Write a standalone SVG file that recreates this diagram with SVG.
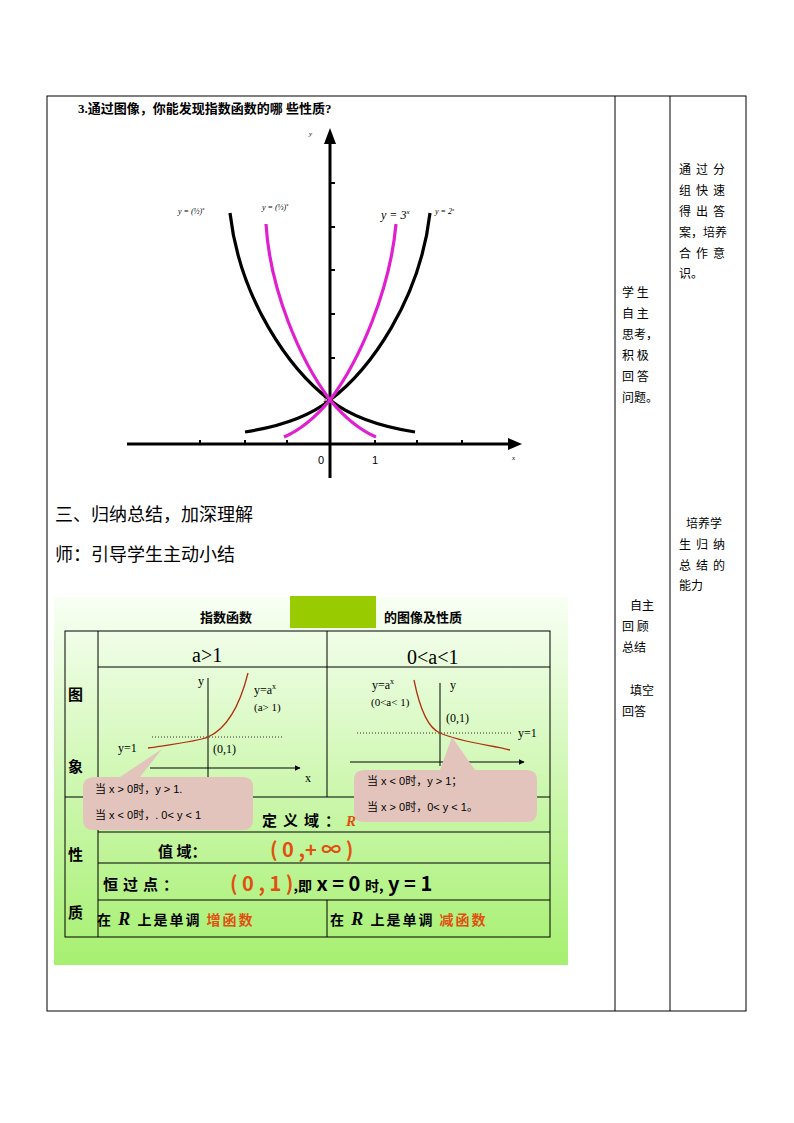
<svg xmlns="http://www.w3.org/2000/svg" width="794" height="1123" viewBox="0 0 794 1123">
<style>
.b{stroke:#000;stroke-width:1;fill:none}
.s{font-family:"Noto Sans CJK SC",sans-serif;font-size:12px;fill:#000}
.h{font-family:"Noto Sans CJK SC",sans-serif;font-size:18px;fill:#000}
.t{font-family:"Liberation Serif","Noto Sans CJK SC",serif;fill:#000}
.ax{stroke:#000;stroke-width:3;fill:none}
.cb{stroke:#000;stroke-width:3.2;fill:none}
.cm{stroke:#e020d0;stroke-width:3.2;fill:none}
.br{stroke:#b03010;stroke-width:1.3;fill:none}
.dot{stroke:#000;stroke-width:0.8;stroke-dasharray:1 2;fill:none}
.k{font-family:"Noto Sans CJK SC",sans-serif;font-weight:bold;fill:#000}
.o{fill:#e05010}
.call{fill:#e2c4bc}
.ct{font-family:"Liberation Sans","Noto Sans CJK SC",sans-serif;font-size:11px;fill:#000}
</style>
<defs>
<linearGradient id="g" x1="0" y1="0" x2="0" y2="1"><stop offset="0" stop-color="#f8fff4"/><stop offset="1" stop-color="#a6f070"/></linearGradient>
<marker id="ar" viewBox="0 0 10 10" refX="9" refY="5" markerWidth="6" markerHeight="6" orient="auto"><path d="M0,0L10,5L0,10z" fill="#000"/></marker>
</defs>
<g id="frame">
<rect class="b" x="47" y="96" width="699" height="915"/>
<line class="b" x1="615" y1="96" x2="615" y2="1011"/>
<line class="b" x1="670" y1="96" x2="670" y2="1011"/>
</g>
<g id="question">
<text class="t" x="78" y="113" font-size="13" font-weight="bold">3.通过图像，你能发现指数函数的哪 些性质?</text>
</g>
<g id="graph">
<line class="ax" x1="127" y1="444" x2="512" y2="444"/>
<path d="M522,444L508,438L508,450z"/>
<line class="ax" x1="330" y1="478" x2="330" y2="140"/>
<path d="M330,128L324,144L336,144z"/>
<g stroke="#000" stroke-width="2">
<line x1="200" y1="440" x2="200" y2="444"/><line x1="245" y1="440" x2="245" y2="444"/><line x1="287" y1="440" x2="287" y2="444"/>
<line x1="375" y1="440" x2="375" y2="444"/><line x1="417" y1="440" x2="417" y2="444"/><line x1="462" y1="440" x2="462" y2="444"/>
<line x1="330" y1="183" x2="335" y2="183"/><line x1="330" y1="227" x2="335" y2="227"/><line x1="330" y1="270" x2="335" y2="270"/><line x1="330" y1="314" x2="335" y2="314"/><line x1="330" y1="358" x2="335" y2="358"/>
</g>
<path class="cb" d="M245,432 C290,425 315,412 330,400 C370,370 420,300 430,213"/>
<path class="cb" d="M415,432 C370,425 345,412 330,400 C290,370 240,300 230,213"/>
<path class="cm" d="M284,437 C305,428 320,412 330,400 C360,360 390,290 396,224"/>
<path class="cm" d="M376,437 C355,428 340,412 330,400 C300,360 270,290 266,224"/>
<text class="t" x="309" y="136" font-size="7" font-style="italic">y</text>
<text class="t" x="512" y="460" font-size="7" font-style="italic">x</text>
<text x="318" y="464" font-family="Liberation Sans" font-size="11">0</text>
<text x="372" y="464" font-family="Liberation Sans" font-size="11">1</text>
<text x="323" y="402" font-family="Liberation Sans" font-size="7">1</text>
<text class="t" x="178" y="214" font-size="8" font-style="italic">y = (½)<tspan dy="-4" font-size="5">x</tspan></text>
<text class="t" x="262" y="210" font-size="8" font-style="italic">y = (⅓)<tspan dy="-4" font-size="5">x</tspan></text>
<text class="t" x="381" y="219" font-size="12" font-style="italic">y = 3<tspan dy="-5" font-size="7">x</tspan></text>
<text class="t" x="435" y="214" font-size="8" font-style="italic">y = 2<tspan dy="-3" font-size="5">x</tspan></text>
</g>
<g id="headings">
<text class="h" x="55" y="521">三、归纳总结，加深理解</text>
<text class="h" x="55" y="561">师：引导学生主动小结</text>
</g>
<g id="notes" class="s">
<text x="622" y="297">学  生</text><text x="622" y="318">自  主</text><text x="622" y="339">思考，</text><text x="622" y="360">积  极</text><text x="622" y="381">回  答</text><text x="622" y="402">问题。</text>
<text x="630" y="610">自主</text><text x="622" y="631">回  顾</text><text x="622" y="652">总结</text>
<text x="630" y="695">填空</text><text x="622" y="716">回答</text>
<text x="679" y="174" letter-spacing="5">通过分</text><text x="679" y="195" letter-spacing="5">组快速</text><text x="679" y="216" letter-spacing="5">得出答</text><text x="679" y="237">案，培养</text><text x="679" y="258" letter-spacing="5">合作意</text><text x="679" y="278">识。</text>
<text x="686" y="528">培养学</text><text x="679" y="549" letter-spacing="5">生归纳</text><text x="679" y="570" letter-spacing="5">总结的</text><text x="679" y="590">能力</text>
</g>
<g id="panel">
<rect x="54" y="597" width="514" height="368" fill="url(#g)"/>
<rect x="290" y="596" width="86" height="32" fill="#99cc00"/>
<text class="k" x="200" y="622" font-size="13">指数函数</text>
<text class="k" x="384" y="622" font-size="13">的图像及性质</text>
<g class="b">
<rect x="65" y="631" width="485" height="306"/>
<line x1="98" y1="631" x2="98" y2="937"/>
<line x1="98" y1="667" x2="550" y2="667"/>
<line x1="65" y1="797" x2="550" y2="797"/>
<line x1="98" y1="832" x2="550" y2="832"/>
<line x1="98" y1="863" x2="550" y2="863"/>
<line x1="98" y1="900" x2="550" y2="900"/>
<line x1="327" y1="631" x2="327" y2="797"/>
<line x1="327" y1="900" x2="327" y2="937"/>
</g>
<text class="t" x="192" y="662" font-size="20">a&gt;1</text>
<text class="t" x="407" y="664" font-size="20">0&lt;a&lt;1</text>
<text class="k" x="68" y="700" font-size="15">图</text>
<text class="k" x="68" y="772" font-size="15">象</text>
<text class="k" x="68" y="860" font-size="15">性</text>
<text class="k" x="68" y="918" font-size="15">质</text>
<line class="b" x1="150" y1="768" x2="300" y2="768" marker-end="url(#ar)"/>
<line class="b" x1="208" y1="777" x2="208" y2="678"/>
<line class="dot" x1="152" y1="737" x2="282" y2="737"/>
<path class="br" d="M148,748 C175,744 200,741 208,737 C228,728 240,705 248,673"/>
<g class="t" font-size="12">
<text x="198" y="685">y</text><text x="305" y="782">x</text>
<text x="118" y="752">y=1</text><text x="213" y="753">(0,1)</text>
<text x="254" y="694">y=a<tspan dy="-5" font-size="8">x</tspan></text><text x="254" y="711" font-size="11">(a&gt; 1)</text>
</g>
<line class="b" x1="350" y1="762" x2="524" y2="762" marker-end="url(#ar)"/>
<line class="b" x1="440" y1="766" x2="440" y2="683"/>
<line class="dot" x1="357" y1="733" x2="512" y2="733"/>
<path class="br" d="M414,680 C420,710 428,728 440,733 C460,742 490,745 510,750"/>
<g class="t" font-size="12">
<text x="450" y="689">y</text>
<text x="518" y="737">y=1</text><text x="446" y="722">(0,1)</text>
<text x="372" y="689">y=a<tspan dy="-5" font-size="8">x</tspan></text><text x="371" y="706" font-size="11">(0&lt;a&lt; 1)</text>
</g>
<path class="call" d="M96,777 L120,777 L162,749 L140,777 L243,777 Q253,777 253,787 L253,820 Q253,830 243,830 L93,830 Q83,830 83,820 L83,787 Q83,777 96,777z"/>
<text class="ct" x="95" y="793">当 x &gt; 0时，y &gt; 1.</text>
<text class="ct" x="95" y="819">当 x &lt; 0时，. 0&lt; y &lt; 1</text>
<path class="call" d="M364,770 L440,770 L452,737 L475,770 L527,770 Q537,770 537,780 L537,812 Q537,822 527,822 L364,822 Q354,822 354,812 L354,780 Q354,770 364,770z"/>
<text class="ct" x="367" y="785">当 x &lt; 0时，y &gt; 1；</text>
<text class="ct" x="367" y="811">当 x &gt; 0时，0&lt; y &lt; 1。</text>
<text class="k" x="262" y="826" font-size="15" letter-spacing="6">定义域：<tspan class="o" font-family="Liberation Serif" font-style="italic">R</tspan></text>
<text class="k" x="158" y="857" font-size="15">值  域：</text>
<text class="k o" x="270" y="857" font-size="20" font-family="Liberation Serif">( 0 ,+ ∞ )</text>
<text class="k" x="103" y="890" font-size="15" letter-spacing="5">恒过点：</text>
<text class="k" x="230" y="891" font-size="20" font-family="Liberation Serif"><tspan class="o">( 0 , 1 )</tspan><tspan font-size="14">,即</tspan> x = 0 <tspan font-size="14">时,</tspan> y = 1</text>
<text class="k" x="97" y="925" font-size="14" letter-spacing="2">在 <tspan font-family="Liberation Serif" font-style="italic" font-size="18">R</tspan> 上是单调 <tspan class="o">增函数</tspan></text>
<text class="k" x="330" y="925" font-size="14" letter-spacing="2">在 <tspan font-family="Liberation Serif" font-style="italic" font-size="18">R</tspan> 上是单调 <tspan class="o">减函数</tspan></text>
</g>
</svg>
